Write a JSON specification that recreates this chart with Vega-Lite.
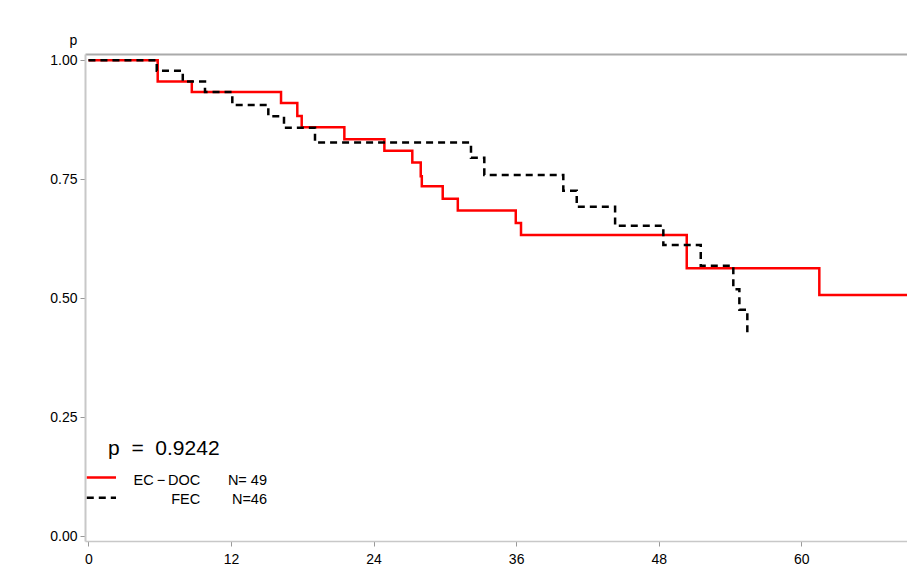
{
  "$schema": "https://vega.github.io/schema/vega-lite/v6.json",
  "width": 822,
  "height": 487,
  "autosize": {"type": "none"},
  "padding": {"left": 85, "top": 54, "right": 0, "bottom": 26},
  "background": "white",
  "config": {
    "view": {"stroke": null},
    "font": "Liberation Sans",
    "axis": {"grid": false, "labelFont": "Liberation Sans", "titleFont": "Liberation Sans", "labelColor": "#000000", "titleColor": "#000000"}
  },
  "datasets": {
    "curves": [
      {"arm": "EC-DOC", "t": 0, "s": 1.0},
      {"arm": "EC-DOC", "t": 5.83, "s": 0.955},
      {"arm": "EC-DOC", "t": 8.70, "s": 0.933},
      {"arm": "EC-DOC", "t": 16.21, "s": 0.910},
      {"arm": "EC-DOC", "t": 17.58, "s": 0.883},
      {"arm": "EC-DOC", "t": 17.95, "s": 0.859},
      {"arm": "EC-DOC", "t": 21.54, "s": 0.834},
      {"arm": "EC-DOC", "t": 24.91, "s": 0.810},
      {"arm": "EC-DOC", "t": 27.26, "s": 0.785},
      {"arm": "EC-DOC", "t": 27.97, "s": 0.756},
      {"arm": "EC-DOC", "t": 28.06, "s": 0.735},
      {"arm": "EC-DOC", "t": 29.82, "s": 0.709},
      {"arm": "EC-DOC", "t": 31.09, "s": 0.684},
      {"arm": "EC-DOC", "t": 35.97, "s": 0.658},
      {"arm": "EC-DOC", "t": 36.41, "s": 0.633},
      {"arm": "EC-DOC", "t": 50.36, "s": 0.563},
      {"arm": "EC-DOC", "t": 61.52, "s": 0.507},
      {"arm": "EC-DOC", "t": 68.9, "s": 0.507},
      {"arm": "FEC", "t": 0, "s": 1.0},
      {"arm": "FEC", "t": 5.75, "s": 0.978},
      {"arm": "FEC", "t": 7.94, "s": 0.955},
      {"arm": "FEC", "t": 9.81, "s": 0.933},
      {"arm": "FEC", "t": 12.11, "s": 0.906},
      {"arm": "FEC", "t": 15.14, "s": 0.882},
      {"arm": "FEC", "t": 16.46, "s": 0.858},
      {"arm": "FEC", "t": 19.07, "s": 0.827},
      {"arm": "FEC", "t": 32.20, "s": 0.795},
      {"arm": "FEC", "t": 33.32, "s": 0.759},
      {"arm": "FEC", "t": 39.97, "s": 0.726},
      {"arm": "FEC", "t": 41.10, "s": 0.692},
      {"arm": "FEC", "t": 44.33, "s": 0.652},
      {"arm": "FEC", "t": 48.39, "s": 0.612},
      {"arm": "FEC", "t": 51.54, "s": 0.568},
      {"arm": "FEC", "t": 54.28, "s": 0.519},
      {"arm": "FEC", "t": 54.79, "s": 0.476},
      {"arm": "FEC", "t": 55.46, "s": 0.427}
    ],
    "keys": [
      {"arm": "EC-DOC", "t": -0.14, "t2": 2.32, "s": 0.1235},
      {"arm": "FEC", "t": -0.14, "t2": 2.32, "s": 0.081}
    ],
    "names": [
      {"label": "EC\u2009\u2212\u2009DOC", "t": 9.41, "s": 0.1166},
      {"label": "FEC", "t": 9.41, "s": 0.0756},
      {"label": "N=\u00a049", "t": 15.03, "s": 0.1166},
      {"label": "N=46", "t": 15.03, "s": 0.0756}
    ],
    "pval": [
      {"label": "p\u00a0\u00a0=\u00a0\u00a00.9242", "t": 1.65, "s": 0.184}
    ]
  },
  "resolve": {"axis": {"x": "independent"}},
  "layer": [
    {
      "data": {"name": "curves"},
      "mark": {"type": "line", "interpolate": "step-after", "strokeWidth": 2.5, "clip": true},
      "encoding": {
        "x": {"field": "t", "type": "quantitative", "scale": {"domain": [-0.29, 68.9], "nice": false, "zero": false},
          "axis": {"orient": "bottom", "values": [0, 12, 24, 36, 48, 60], "title": null, "labelFontSize": 14, "labelPadding": 6, "labelFlush": false, "tickSize": 5, "tickColor": "#999999", "domainColor": "#c8c8c8", "domainWidth": 1.5}},
        "y": {"field": "s", "type": "quantitative", "scale": {"domain": [-0.01, 1.013], "nice": false, "zero": false},
          "axis": {"values": [0, 0.25, 0.5, 0.75, 1], "format": ".2f", "title": "p", "titleAngle": 0, "titleAlign": "center", "titleBaseline": "alphabetic", "titleX": -12, "titleY": -10, "titleFontSize": 14, "titleFontWeight": "normal", "labelFontSize": 14, "labelPadding": 3, "tickSize": 5, "tickColor": "#999999", "domainColor": "#c8c8c8", "domainWidth": 2}},
        "color": {"field": "arm", "type": "nominal", "scale": {"domain": ["EC-DOC", "FEC"], "range": ["#ff0000", "#000000"]}, "legend": null},
        "strokeDash": {"field": "arm", "type": "nominal", "scale": {"domain": ["EC-DOC", "FEC"], "range": [[1, 0], [7, 5]]}, "legend": null}
      }
    },
    {
      "data": {"name": "keys"},
      "mark": {"type": "rule", "strokeWidth": 2.5},
      "encoding": {
        "x": {"field": "t", "type": "quantitative", "axis": {"orient": "top", "labels": false, "ticks": false, "title": null, "domainColor": "#aaaaaa", "domainWidth": 2}},
        "x2": {"field": "t2"},
        "y": {"field": "s", "type": "quantitative"},
        "color": {"field": "arm", "type": "nominal", "legend": null},
        "strokeDash": {"field": "arm", "type": "nominal", "legend": null}
      }
    },
    {
      "data": {"name": "names"},
      "mark": {"type": "text", "align": "right", "baseline": "middle", "fontSize": 14.5, "color": "#000000"},
      "encoding": {
        "x": {"field": "t", "type": "quantitative", "axis": null},
        "y": {"field": "s", "type": "quantitative"},
        "text": {"field": "label"}
      }
    },
    {
      "data": {"name": "pval"},
      "mark": {"type": "text", "align": "left", "baseline": "middle", "fontSize": 21, "color": "#000000"},
      "encoding": {
        "x": {"field": "t", "type": "quantitative", "axis": null},
        "y": {"field": "s", "type": "quantitative"},
        "text": {"field": "label"}
      }
    }
  ]
}
